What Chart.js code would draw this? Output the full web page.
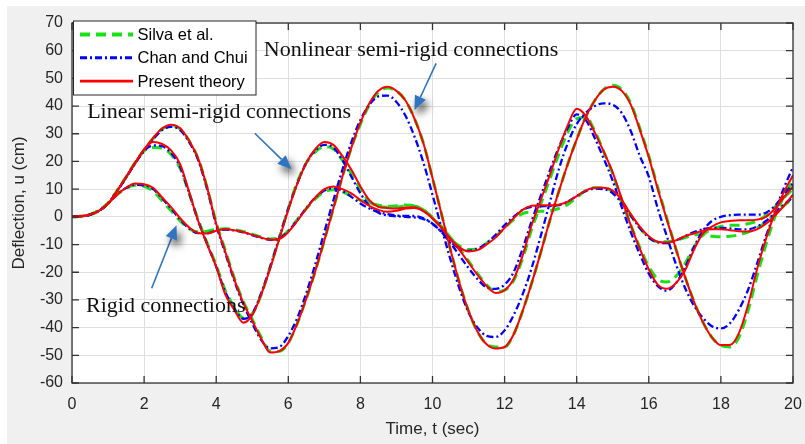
<!DOCTYPE html>
<html>
<head>
<meta charset="utf-8">
<script src="https://cdn.jsdelivr.net/npm/chart.js@4.4.1/dist/chart.umd.min.js"></script>
<style>
  body { margin: 0; background: #fff; }
  canvas { display: block; }
</style>
</head>
<body>
<canvas id="chart-deflection" width="805" height="444"></canvas>
<script>
// Zeit in s (alle 0,25 s)
const timeSec = [
  0, 0.25, 0.5, 0.75, 1, 1.25, 1.5, 1.75,
  2, 2.25, 2.5, 2.75, 3, 3.25, 3.5, 3.75,
  4, 4.25, 4.5, 4.75, 5, 5.25, 5.5, 5.75,
  6, 6.25, 6.5, 6.75, 7, 7.25, 7.5, 7.75,
  8, 8.25, 8.5, 8.75, 9, 9.25, 9.5, 9.75,
  10, 10.25, 10.5, 10.75, 11, 11.25, 11.5, 11.75,
  12, 12.25, 12.5, 12.75, 13, 13.25, 13.5, 13.75,
  14, 14.25, 14.5, 14.75, 15, 15.25, 15.5, 15.75,
  16, 16.25, 16.5, 16.75, 17, 17.25, 17.5, 17.75,
  18, 18.25, 18.5, 18.75, 19, 19.25, 19.5, 19.75,
  20,
];

// rigid connections (cm)
const rigidSilva = [
  0, 0.2, 0.8, 2.3, 4.9, 8, 10.3, 11.4,
  11, 9.3, 5.8, 2.2, -1.5, -4.3, -5.4, -5.2,
  -4.5, -4.3, -4.6, -5.3, -6.3, -7.3, -8, -7.5,
  -5, -1, 3, 6.5, 9, 9.8, 9, 7.5,
  6, 5, 4.2, 3.8, 4, 4.3, 4, 2.5,
  -0.5, -4, -8, -10.5, -11.8, -11.5, -9.5, -7,
  -4, -1, 1.2, 1.8, 2, 2.2, 3, 4.5,
  7, 9.5, 10.5, 10.5, 9, 5.5, 0.5, -4,
  -7.5, -9, -9, -8.5, -7.5, -6.5, -6.5, -7,
  -7.2, -7, -6.5, -5.5, -4, -2, 1, 4,
  7,
];
const rigidChan = [
  0, 0.2, 0.8, 2.2, 4.8, 8, 10.4, 11.6,
  11.4, 10, 6.6, 3, -1, -4.2, -5.9, -5.9,
  -5, -4.6, -4.9, -5.6, -6.6, -7.6, -8.3, -7.8,
  -5.2, -1.2, 3.2, 7, 9.5, 10.3, 9.3, 7.2,
  4.8, 3, 1.8, 1, 0.5, 0.3, 0.3, -0.5,
  -2.5, -5.5, -9, -11.5, -12.3, -11.5, -9.5, -6.5,
  -3, 0, 2.5, 3.6, 3.8, 3.9, 4.2, 5.5,
  7.5, 9.3, 10.2, 10, 8.5, 5, 0.5, -4,
  -7.5, -9.2, -9.5, -8.5, -7, -5.5, -4.5, -4,
  -4, -4.2, -4.5, -4.5, -3.5, -1.5, 1.5, 4.5,
  7,
];
const rigidPresent = [
  0, 0.2, 0.8, 2.2, 4.8, 8, 10.5, 12,
  11.8, 10.5, 7, 3.5, -0.5, -3.8, -5.8, -6,
  -5, -4.5, -4.8, -5.5, -6.5, -7.5, -8.3, -8,
  -5.5, -1.5, 3, 7, 10, 11, 10, 8.5,
  6, 4, 2.5, 1.8, 2.2, 3, 3.2, 2,
  -0.5, -4, -8, -11, -12.5, -12, -10, -7.5,
  -4, -0.5, 2.5, 4, 4.2, 4.2, 4.4, 5.5,
  7.5, 9.5, 10.5, 10.5, 9.5, 6, 1, -3.5,
  -7, -9, -9.3, -8.5, -7, -6, -5, -4.5,
  -4.5, -4.8, -5.2, -5.3, -4.5, -2.5, 0.5, 4,
  8,
];

// linear semi-rigid connections (cm)
const linearSilva = [
  0, 0.2, 0.8, 2.3, 4.9, 9.4, 14.4, 19.5,
  23.8, 25, 24.8, 22.5, 17.5, 8.5, -1, -9.5,
  -17.5, -26.5, -32.5, -36.5, -35, -28, -18, -7.5,
  3, 12.5, 19.5, 23.5, 25.3, 24.5, 20.5, 15.5,
  10, 5.5, 3.8, 3.5, 3.6, 3.8, 3.8, 2.5,
  -0.2, -3.5, -7.5, -11.5, -16, -20.5, -24.5, -27,
  -26.5, -23, -15, -4.5, 4.5, 13.5, 22.5, 30.5,
  35.5, 36, 31, 23.5, 15.5, 6, -3, -11,
  -18, -22.5, -23.5, -21.5, -17, -11, -6.5, -4.5,
  -3.5, -3, -3, -2.5, -1.5, 0.5, 3.5, 7,
  10,
];
const linearChan = [
  0, 0.2, 0.8, 2.2, 4.8, 9.3, 14.2, 19.3,
  23.8, 25.8, 25.5, 23, 18, 8.5, -1.5, -9.8,
  -18, -27, -33, -36.8, -35, -27.5, -18, -7.5,
  3, 12, 19.5, 24, 26, 25, 20.5, 14.5,
  8.5, 4, 1.5, 0.5, 0.2, 0, -0.2, -0.8,
  -2.5, -5.5, -9.5, -14, -18.5, -22.5, -25.5, -26,
  -24.5, -20, -11.5, -1.5, 7.5, 16.5, 25, 32,
  37, 35, 28.5, 21, 13, 3.5, -5.5, -13.5,
  -20.5, -25, -26.7, -24, -18.5, -11, -5, -1.5,
  0, 0.6, 0.8, 0.8, 0.8, 1.5, 4, 8,
  12,
];
const linearPresent = [
  0, 0.2, 0.8, 2.2, 4.8, 9.3, 14.3, 19.5,
  24.3, 27, 26.3, 24, 19, 9, -1.5, -10,
  -18, -28, -33.5, -38.2, -35.5, -28, -18.5, -8,
  2.5, 12, 19.5, 24.5, 27, 26, 22, 17,
  11, 6, 3.6, 3.2, 3, 3.4, 3.5, 2.2,
  -0.5, -4, -8, -12, -16.5, -21, -25, -27.5,
  -26.5, -22.5, -14, -3, 6, 15, 24.5, 33,
  39, 36.5, 30.5, 23.5, 16, 6.5, -3, -11.5,
  -19, -24.5, -26, -24, -19.5, -12, -6, -3.5,
  -2, -1.5, -1.2, -1.2, -1, 0, 3, 7,
  11,
];

// nonlinear semi-rigid connections (cm)
const nonlinearSilva = [
  0, 0.2, 0.8, 2.3, 4.9, 9.4, 14.4, 19.5,
  24.2, 28.3, 31.7, 33, 31.8, 27.5, 21, 10.5,
  -2, -12, -22, -30.5, -37, -43.5, -48.5, -48.5,
  -45.5, -38.5, -29.5, -19.5, -8.5, 3, 14.5, 25,
  33.5, 40.5, 45, 46.5, 45.5, 42, 35.5, 26.5,
  14, 1, -12, -24, -34, -41.5, -46, -47,
  -47, -42.5, -34, -24, -13, -1.5, 9, 19,
  28, 36, 42, 46, 47.5, 46, 41, 32,
  22, 10.5, -0.5, -11.5, -21.5, -30.5, -38, -43.5,
  -46.5, -47, -43.5, -34, -21.5, -10, 0, 7.5,
  13,
];
const nonlinearChan = [
  0, 0.2, 0.8, 2.2, 4.8, 9.3, 14.2, 19.3,
  24, 28, 31.3, 32.5, 31.3, 27, 20.5, 10,
  -3, -13, -23, -31.5, -38.5, -44.5, -47.5, -47,
  -43, -36.5, -27.5, -17, -5.5, 6, 17, 27,
  35, 40.5, 43.5, 43.8, 41.5, 36.5, 29, 19.5,
  8, -4, -15.5, -26, -34.5, -40, -43, -43.4,
  -41, -35.5, -28, -18.5, -7, 5, 17, 26.5,
  33.5, 37.5, 40, 41, 40.5, 37.5, 31, 22,
  14.5, 3, -7, -17, -25.5, -32, -36.5, -39.5,
  -40.3, -38.5, -33.5, -26.5, -17, -7, 2, 10.5,
  18,
];
const nonlinearPresent = [
  0, 0.2, 0.8, 2.2, 4.8, 9.3, 14.3, 19.5,
  24.3, 28.5, 32, 33.3, 32, 27.5, 21, 10.5,
  -2.5, -12.5, -22.5, -31, -37.5, -44, -49, -48.5,
  -45.5, -38.5, -29.5, -19.5, -8.5, 3, 14.5, 25,
  34, 41, 45.5, 47, 45.5, 42, 35.5, 26.5,
  14, 1, -12, -24, -34, -41.5, -46, -47.5,
  -47, -42.5, -34, -24, -13, -1.5, 9, 19,
  28, 36, 42, 46, 47, 45.5, 40.5, 31.5,
  21.5, 10, -1, -11.5, -21.5, -30.5, -38, -43.5,
  -46.3, -46.3, -42, -32, -19, -8, 1.5, 9,
  15,
];

const methodNames = ["Silva et al.", "Chan and Chui", "Present theory"];

// Beschriftungen im Diagramm (in Achsenwerten t, u)
const noteLabels = [
  { text: "Nonlinear semi-rigid connections", t: 5.32, u: 58.2 },
  { text: "Linear semi-rigid connections", t: 0.42, u: 35.6 },
  { text: "Rigid connections", t: 0.39, u: -34.3 },
];
const noteArrows = [
  { t0: 10.1, u0: 55.4, t1: 9.5, u1: 38.6 },
  { t0: 5.07, u0: 30.2, t1: 6.09, u1: 17.2 },
  { t0: 2.21, u0: -25.8, t1: 2.9, u1: -3.0 },
];

const methodStyles = [
  { color: "#19e019", dash: [10, 6], width: 3, order: 2 },
  { color: "#0000ff", dash: [7, 3, 2, 3], width: 2.3, order: 1 },
  { color: "#ff0000", dash: [], width: 2, order: 0 },
];

const families = [
  [rigidSilva, rigidChan, rigidPresent],
  [linearSilva, linearChan, linearPresent],
  [nonlinearSilva, nonlinearChan, nonlinearPresent],
];

const datasets = [];
families.forEach((fam) => {
  fam.forEach((vals, m) => {
    const s = methodStyles[m];
    datasets.push({
      label: methodNames[m],
      data: timeSec.map((t, i) => ({ x: t, y: vals[i] })),
      borderColor: s.color,
      borderDash: s.dash,
      borderWidth: s.width,
      order: s.order,
      fill: false,
    });
  });
});

const figureBg = {
  id: "figureBg",
  beforeDraw(chart) {
    const { ctx, chartArea: a, width, height } = chart;
    ctx.save();
    ctx.fillStyle = "#ffffff";
    ctx.fillRect(0, 0, width, height);
    ctx.fillStyle = "#f0f0f0";
    ctx.fillRect(7, 6, width - 7, height - 6);
    ctx.fillStyle = "#ffffff";
    ctx.fillRect(a.left, a.top, a.right - a.left, a.bottom - a.top);
    ctx.restore();
  },
};

const axesBox = {
  id: "axesBox",
  afterDatasetsDraw(chart) {
    const { ctx, chartArea: a, scales } = chart;
    ctx.save();
    ctx.strokeStyle = "#333333";
    ctx.lineWidth = 1.3;
    ctx.strokeRect(a.left, a.top, a.right - a.left, a.bottom - a.top);
    ctx.beginPath();
    scales.x.ticks.forEach((tk) => {
      const x = scales.x.getPixelForValue(tk.value);
      ctx.moveTo(x, a.bottom);
      ctx.lineTo(x, a.bottom - 7);
      ctx.moveTo(x, a.top);
      ctx.lineTo(x, a.top + 7);
    });
    scales.y.ticks.forEach((tk) => {
      const y = scales.y.getPixelForValue(tk.value);
      ctx.moveTo(a.left, y);
      ctx.lineTo(a.left + 7, y);
      ctx.moveTo(a.right, y);
      ctx.lineTo(a.right - 7, y);
    });
    ctx.stroke();
    ctx.restore();
  },
};

function drawArrow(ctx, x0, y0, x1, y1) {
  const ang = Math.atan2(y1 - y0, x1 - x0);
  const head = 14, half = 6;
  const bx = x1 - head * Math.cos(ang);
  const by = y1 - head * Math.sin(ang);
  ctx.strokeStyle = "#2f74c0";
  ctx.lineWidth = 1.6;
  ctx.beginPath();
  ctx.moveTo(x0, y0);
  ctx.lineTo(bx, by);
  ctx.stroke();
  ctx.save();
  ctx.shadowColor = "rgba(0,0,0,0.85)";
  ctx.shadowBlur = 8;
  ctx.shadowOffsetX = 3;
  ctx.shadowOffsetY = 5;
  ctx.fillStyle = "#2f74c0";
  ctx.beginPath();
  ctx.moveTo(x1, y1);
  ctx.lineTo(bx + half * Math.sin(ang), by - half * Math.cos(ang));
  ctx.lineTo(bx - half * Math.sin(ang), by + half * Math.cos(ang));
  ctx.closePath();
  ctx.fill();
  ctx.restore();
}

const notes = {
  id: "notes",
  afterDatasetsDraw(chart) {
    const { ctx, scales } = chart;
    ctx.save();
    ctx.font = "22px 'Liberation Serif', 'Times New Roman', serif";
    ctx.fillStyle = "#111111";
    ctx.textAlign = "left";
    ctx.textBaseline = "alphabetic";
    noteLabels.forEach((n) => {
      ctx.fillText(n.text, scales.x.getPixelForValue(n.t), scales.y.getPixelForValue(n.u));
    });
    noteArrows.forEach((a) => {
      drawArrow(
        ctx,
        scales.x.getPixelForValue(a.t0), scales.y.getPixelForValue(a.u0),
        scales.x.getPixelForValue(a.t1), scales.y.getPixelForValue(a.u1)
      );
    });
    ctx.restore();
  },
};

const boxLegend = {
  id: "boxLegend",
  afterDraw(chart) {
    const { ctx, chartArea: a } = chart;
    const lx = a.left + 1.5, ly = a.top - 2, lw = 182.5, lh = 74;
    ctx.save();
    ctx.fillStyle = "#ffffff";
    ctx.fillRect(lx, ly, lw, lh);
    ctx.strokeStyle = "#262626";
    ctx.lineWidth = 1;
    ctx.strokeRect(lx, ly, lw, lh);
    ctx.font = "16.5px 'Liberation Sans', Arial, sans-serif";
    ctx.textBaseline = "middle";
    ctx.fillStyle = "#000000";
    methodNames.forEach((name, i) => {
      const s = methodStyles[i];
      const y = ly + 13.5 + i * 23.3;
      ctx.strokeStyle = s.color;
      ctx.lineWidth = s.width + 0.8;
      ctx.setLineDash(s.dash);
      ctx.beginPath();
      ctx.moveTo(lx + 6.5, y);
      ctx.lineTo(lx + 59.5, y);
      ctx.stroke();
      ctx.setLineDash([]);
      ctx.fillText(name, lx + 64, y + 1);
    });
    ctx.restore();
  },
};

document.addEventListener("DOMContentLoaded", () => {
  Chart.defaults.font.family = "'Liberation Sans', Arial, sans-serif";
  Chart.defaults.color = "#262626";
  const el = document.getElementById("chart-deflection");
  new Chart(el, {
    type: "line",
    data: { datasets },
    options: {
      responsive: false,
      animation: false,
      layout: { padding: { top: 23, right: 12, left: 0, bottom: 0 } },
      elements: {
        point: { radius: 0 },
        line: { cubicInterpolationMode: "monotone" },
      },
      plugins: {
        legend: { display: false },
        tooltip: { enabled: false },
      },
      scales: {
        x: {
          type: "linear",
          min: 0,
          max: 20,
          ticks: { stepSize: 2, padding: 12, font: { size: 16 } },
          grid: { color: "#dedede", drawTicks: false },
          border: { display: false },
          title: {
            display: true,
            text: "Time, t (sec)",
            font: { size: 17 },
            padding: { top: 0, bottom: 4 },
          },
          afterFit(s) {
            s.height = 61;
            s.paddingLeft = 0;
            s.paddingRight = 0;
          },
        },
        y: {
          type: "linear",
          min: -60,
          max: 70,
          ticks: { stepSize: 10, padding: 9, font: { size: 16 } },
          grid: { color: "#dedede", drawTicks: false },
          border: { display: false },
          title: {
            display: true,
            text: "Deflection, u (cm)",
            font: { size: 17 },
            padding: { top: 9, bottom: 0 },
          },
          afterFit(s) {
            s.width = 72;
            s.paddingTop = 0;
            s.paddingBottom = 0;
          },
        },
      },
    },
    plugins: [figureBg, axesBox, notes, boxLegend],
  });
});
</script>
</body>
</html>
